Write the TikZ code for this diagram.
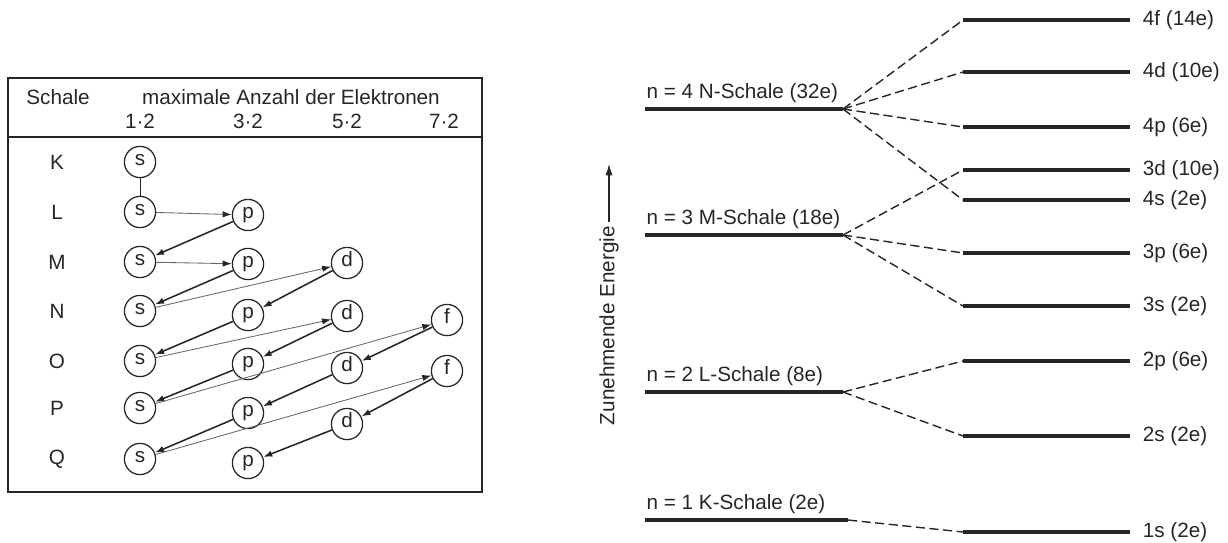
\documentclass[tikz,border=0pt]{standalone}
\usepackage{fontspec}
\setmainfont{Liberation Sans}
\usetikzlibrary{arrows.meta}

\definecolor{ink}{gray}{0.15}
\definecolor{faint}{gray}{0.4}

\tikzstyle{orb} = [draw=ink, circle, line width=0.9pt, minimum size=0.78cm, inner sep=0pt, text height=1ex, text depth=0pt]
\tikzstyle{descend} = [draw=ink, line width=1.1pt, -{Latex[length=6.5pt,width=4.5pt]}]
\tikzstyle{ascend} = [draw=faint, line width=0.6pt, -{Latex[length=6.5pt,width=4.5pt,color=ink]}]
\tikzstyle{frame} = [draw=ink, line width=1pt]
\tikzstyle{lvl} = [draw=ink, line width=2.4pt]
\tikzstyle{split} = [draw=ink, line width=1pt, dash pattern=on 6.5pt off 3.2pt]
\tikzstyle{shelllabel} = [anchor=south west, inner sep=0pt, yshift=0.12cm]
\tikzstyle{sublabel} = [anchor=west, inner sep=0pt, xshift=0.28cm]

\begin{document}
\begin{tikzpicture}[x=0.025cm, y=-0.025cm, font=\fontsize{14.7}{17}\selectfont, text=ink]
\useasboundingbox (0,0) rectangle (1228,542);

%Table
	\draw[frame] (8,78) rectangle (482,492);
	\draw[frame] (8,137) -- (482,137);
	\node (schale) at (58,97) {Schale};
	\node (anzahl) at (291,97) {maximale Anzahl der Elektronen};
	\foreach \x/\k in {140/1, 248/3, 347/5, 444/7}
		\node (max\k) at (\x,121) {\k·2};
	\foreach \r/\y in {K/162, L/212, M/262, N/311, O/361, P/408, Q/459}
		\node (row\r) at (57,\y) {\r};

%Nodes
	\node[orb] (sK) at (140,162) {s};
	\node[orb] (sL) at (140,212) {s};
	\node[orb] (sM) at (140,262) {s};
	\node[orb] (sN) at (140,311) {s};
	\node[orb] (sO) at (140,361) {s};
	\node[orb] (sP) at (140,408) {s};
	\node[orb] (sQ) at (140,459) {s};
	\node[orb] (pL) at (248,215) {p};
	\node[orb] (pM) at (248,264) {p};
	\node[orb] (pN) at (248,315) {p};
	\node[orb] (pO) at (248,364) {p};
	\node[orb] (pP) at (248,413) {p};
	\node[orb] (pQ) at (248,463) {p};
	\node[orb] (dM) at (347,263) {d};
	\node[orb] (dN) at (347,316) {d};
	\node[orb] (dO) at (347,368) {d};
	\node[orb] (dP) at (347,424) {d};
	\node[orb] (fN) at (447,320) {f};
	\node[orb] (fO) at (447,371) {f};

%Connections
	\draw[draw=ink, line width=0.5pt] (sK) -- (sL);
	\draw[ascend] (sL) -- (pL);
	\draw[descend] (pL) -- (sM);
	\draw[ascend] (sM) -- (pM);
	\draw[descend] (pM) -- (sN);
	\draw[ascend] (sN) -- (dM);
	\draw[descend] (dM) -- (pN);
	\draw[descend] (pN) -- (sO);
	\draw[ascend] (sO) -- (dN);
	\draw[descend] (dN) -- (pO);
	\draw[descend] (pO) -- (sP);
	\draw[ascend] (sP) -- (fN);
	\draw[descend] (fN) -- (dO);
	\draw[descend] (dO) -- (pP);
	\draw[descend] (pP) -- (sQ);
	\draw[ascend] (sQ) -- (fO);
	\draw[descend] (fO) -- (dP);
	\draw[descend] (dP) -- (pQ);

%Energy axis
	\node[rotate=90, anchor=east, inner sep=0pt] (energie) at (609,226) {Zunehmende Energie};
	\coordinate (etip) at (609,164);
	\draw[draw=ink, line width=0.8pt, -{Latex[length=8pt,width=5pt]}] (energie.east) ++(0,-4) -- (etip);

%Shells
	\foreach \n/\xe/\y/\lab in {n4/843/109/{n = 4 N-Schale (32e)}, n3/843/235/{n = 3 M-Schale (18e)}, n2/843/392/{n = 2 L-Schale (8e)}, n1/848/520/{n = 1 K-Schale (2e)}}{
		\coordinate (\n) at (\xe,\y);
		\draw[lvl] (\n) -- ++(-\xe+645,0) node[shelllabel] {\lab};
	}

%Subshells
	\foreach \sub/\y/\n/\lab in {4f/20/n4/{4f (14e)}, 4d/72/n4/{4d (10e)}, 4p/127/n4/{4p (6e)}, 4s/200/n4/{4s (2e)}, 3d/170/n3/{3d (10e)}, 3p/253/n3/{3p (6e)}, 3s/306/n3/{3s (2e)}, 2p/361/n2/{2p (6e)}, 2s/436/n2/{2s (2e)}, 1s/532/n1/{1s (2e)}}{
		\coordinate (l\sub) at (963,\y);
		\draw[lvl] (l\sub) -- ++(167,0) node[sublabel] {\lab};
		\draw[split] (\n) -- (l\sub);
	}

\end{tikzpicture}
\end{document}
